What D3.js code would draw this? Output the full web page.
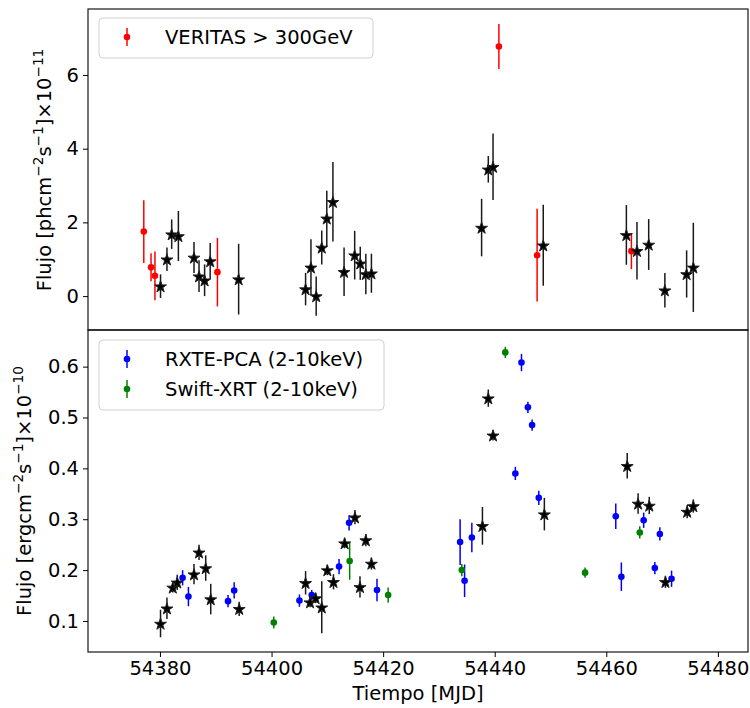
<!DOCTYPE html>
<html>
<head>
<meta charset="utf-8">
<script src="https://cdn.jsdelivr.net/npm/d3@7"></script>
<style>
  body { margin: 0; background: #fff; }
  svg text { font-family: "DejaVu Sans", sans-serif; }
</style>
</head>
<body>
<svg id="chart" width="750" height="708"></svg>
<script>
// ---- VERITAS (>300 GeV) light curve, units of 1e-11 ph cm^-2 s^-1 ----
const veritasMJD = [54377.1, 54378.4, 54379.1, 54390.3, 54440.75, 54447.6, 54464.5];
const veritasFlux = [1.75, 0.78, 0.55, 0.65, 6.77, 1.11, 1.22];
const veritasErr = [0.85, 0.38, 0.66, 0.93, 0.61, 1.26, 0.49];

// ---- Model fluxes on the gamma-ray panel (stars) ----
const gammaModelMJD = [54380.1, 54381.25, 54382.1, 54383.3, 54386.1, 54387.0, 54388.0, 54389.0, 54394.1,
  54406.1, 54407.06, 54408.0, 54409.0, 54409.9, 54411.0, 54413.0, 54414.9, 54415.9, 54416.9, 54417.9,
  54437.65, 54438.85, 54439.7, 54448.7,
  54463.6, 54465.5, 54467.6, 54470.5, 54474.4, 54475.6];
const gammaModelFlux = [0.27, 1.0, 1.68, 1.63, 1.05, 0.54, 0.43, 0.95, 0.46,
  0.19, 0.78, 0.0, 1.32, 2.11, 2.56, 0.66, 1.11, 0.89, 0.6, 0.62,
  1.86, 3.44, 3.51, 1.38,
  1.66, 1.23, 1.4, 0.16, 0.6, 0.78];
const gammaModelErr = [0.32, 0.32, 0.4, 0.68, 0.42, 0.43, 0.43, 0.49, 0.96,
  0.44, 0.76, 0.53, 0.46, 0.75, 1.08, 0.66, 0.66, 0.45, 0.55, 0.53,
  0.78, 0.36, 0.9, 1.1,
  0.81, 0.78, 0.69, 0.47, 0.64, 1.21];

// ---- RXTE-PCA (2-10 keV), units of 1e-10 erg cm^-2 s^-1 ----
const pcaMJD = [54384.06, 54385.1, 54392.2, 54393.3, 54405.0, 54407.2, 54412.1, 54413.9, 54418.9,
  54433.8, 54434.6, 54435.9, 54443.7, 54444.8, 54445.95, 54446.7, 54447.9,
  54461.7, 54462.7, 54466.7, 54468.7, 54469.6, 54471.7];
const pcaFlux = [0.185, 0.148, 0.139, 0.16, 0.14, 0.151, 0.207, 0.293, 0.161,
  0.255, 0.179, 0.264, 0.39, 0.608, 0.52, 0.485, 0.342,
  0.306, 0.187, 0.298, 0.204, 0.271, 0.183];
const pcaErr = [0.015, 0.019, 0.012, 0.016, 0.012, 0.01, 0.015, 0.015, 0.022,
  0.045, 0.032, 0.029, 0.013, 0.017, 0.011, 0.011, 0.014,
  0.025, 0.028, 0.015, 0.012, 0.013, 0.016];

// ---- Swift-XRT (2-10 keV) ----
const xrtMJD = [54400.4, 54414.0, 54420.9, 54434.1, 54441.9, 54456.2, 54466.0];
const xrtFlux = [0.097, 0.218, 0.151, 0.2, 0.628, 0.195, 0.274];
const xrtErr = [0.012, 0.037, 0.015, 0.012, 0.011, 0.01, 0.012];

// ---- Model fluxes on the X-ray panel (stars) ----
const xModelMJD = [54380.1, 54381.25, 54382.3, 54383.1, 54386.1, 54387.0, 54388.2, 54389.1, 54394.2,
  54406.1, 54406.9, 54407.9, 54409.0, 54410.0, 54411.1, 54413.1, 54414.95, 54415.85, 54416.9, 54417.9,
  54437.8, 54438.85, 54439.7, 54448.9,
  54463.75, 54465.7, 54467.7, 54470.6, 54474.5, 54475.6];
const xModelFlux = [0.095, 0.125, 0.166, 0.176, 0.192, 0.235, 0.204, 0.143, 0.124,
  0.175, 0.137, 0.145, 0.127, 0.2, 0.177, 0.253, 0.304, 0.167, 0.259, 0.213,
  0.287, 0.538, 0.465, 0.31,
  0.405, 0.331, 0.327, 0.177, 0.315, 0.326];
const xModelErr = [0.027, 0.021, 0.01, 0.015, 0.02, 0.015, 0.025, 0.03, 0.014,
  0.023, 0.01, 0.01, 0.051, 0.01, 0.015, 0.01, 0.014, 0.021, 0.012, 0.012,
  0.037, 0.017, 0.01, 0.032,
  0.025, 0.02, 0.017, 0.012, 0.013, 0.013];

const xTicks = [54380, 54400, 54420, 54440, 54460, 54480];
const gammaTicks = [0, 2, 4, 6];
const xrayTicks = [0.1, 0.2, 0.3, 0.4, 0.5, 0.6];

// ---- layout ----
const svg = d3.select("#chart");
const left = 88, right = 748;
const top1 = 9, bot1 = 330, top2 = 330, bot2 = 652;

const x = d3.scaleLinear().domain([54367.1, 54485.4]).range([left, right]);
const yG = d3.scaleLinear().domain([-0.92, 7.79]).range([bot1, top1]);
const yX = d3.scaleLinear().domain([0.039, 0.672]).range([bot2, top2]);

const fontSize = 19.5;

function clip(id, y0, y1) {
  svg.append("clipPath").attr("id", id)
    .append("rect").attr("x", left).attr("y", y0).attr("width", right - left).attr("height", y1 - y0);
}
clip("c1", top1, bot1);
clip("c2", top2, bot2);

function zip(xs, ys, es) { return xs.map((d, i) => ({ t: d, v: ys[i], e: es[i] })); }

function errorbars(g, data, y, color) {
  g.selectAll(null).data(data).join("line")
    .attr("x1", d => x(d.t)).attr("x2", d => x(d.t))
    .attr("y1", d => y(d.v - d.e)).attr("y2", d => y(d.v + d.e))
    .attr("stroke", color).attr("stroke-width", 1.5);
}
function dots(g, data, y, color) {
  errorbars(g, data, y, color);
  g.selectAll(null).data(data).join("circle")
    .attr("cx", d => x(d.t)).attr("cy", d => y(d.v)).attr("r", 3.3).attr("fill", color);
}
const star = d3.symbol().type(d3.symbolStar).size(44);
function stars(g, data, y) {
  errorbars(g, data, y, "#1a1a1a");
  g.selectAll(null).data(data).join("path")
    .attr("d", star)
    .attr("transform", d => `translate(${x(d.t)},${y(d.v) + 0.7})`)
    .attr("fill", "#000").attr("stroke", "#222").attr("stroke-width", 1)
    .attr("stroke-linejoin", "miter");
}

// ---- top panel: gamma rays ----
const g1 = svg.append("g").attr("clip-path", "url(#c1)");
dots(g1, zip(veritasMJD, veritasFlux, veritasErr), yG, "#ff0000");
stars(g1, zip(gammaModelMJD, gammaModelFlux, gammaModelErr), yG);

// ---- bottom panel: X-rays ----
const g2 = svg.append("g").attr("clip-path", "url(#c2)");
dots(g2, zip(pcaMJD, pcaFlux, pcaErr), yX, "#0000ff");
dots(g2, zip(xrtMJD, xrtFlux, xrtErr), yX, "#008000");
stars(g2, zip(xModelMJD, xModelFlux, xModelErr), yX);

// ---- axes ----
function styleAxis(g) {
  g.select(".domain").remove();
  g.selectAll(".tick line").attr("stroke", "#000").attr("stroke-width", 1);
  g.selectAll(".tick text").attr("font-size", fontSize).attr("fill", "#000")
    .style("font-family", "DejaVu Sans, sans-serif");
}
svg.append("g").attr("transform", `translate(${left},0)`)
  .call(d3.axisLeft(yG).tickValues(gammaTicks).tickFormat(d3.format("d")).tickSize(5).tickPadding(4))
  .call(styleAxis);
svg.append("g").attr("transform", `translate(${left},0)`)
  .call(d3.axisLeft(yX).tickValues(xrayTicks).tickFormat(d3.format(".1f")).tickSize(5).tickPadding(4))
  .call(styleAxis);
svg.append("g").attr("transform", `translate(0,${bot2})`)
  .call(d3.axisBottom(x).tickValues(xTicks).tickFormat(d3.format("d")).tickSize(5).tickPadding(4))
  .call(styleAxis);

// frames
[[top1, bot1], [top2, bot2]].forEach(([a, b]) => {
  svg.append("rect").attr("x", left).attr("y", a).attr("width", right - left).attr("height", b - a)
    .attr("fill", "none").attr("stroke", "#000").attr("stroke-width", 1.1);
});

// ---- axis labels ----
svg.append("text").attr("x", (left + right) / 2).attr("y", 700)
  .attr("text-anchor", "middle").attr("font-size", fontSize).text("Tiempo [MJD]");

function yLabel(cx, cy, unit) {
  const t = svg.append("text").attr("transform", `translate(${cx},${cy}) rotate(-90)`)
    .attr("text-anchor", "middle").attr("font-size", fontSize);
  const sup = (s) => t.append("tspan").attr("font-size", fontSize * 0.7).attr("dy", -8).text(s);
  const base = (s) => t.append("tspan").attr("font-size", fontSize).attr("dy", 8).text(s);
  t.append("tspan").text(`Flujo [${unit}cm`);
  sup("\u22122"); base("s"); sup("\u22121"); base("]\u00d710");
  sup(unit === "ph" ? "\u221211" : "\u221210");
}
yLabel(51, 170, "ph");
yLabel(31, 491, "erg");

// ---- legends ----
function legend(x0, y0, w, entries) {
  const h = 10 + entries.length * 30;
  const g = svg.append("g");
  g.append("rect").attr("x", x0).attr("y", y0).attr("width", w).attr("height", h)
    .attr("rx", 4).attr("fill", "#fff").attr("fill-opacity", 0.8)
    .attr("stroke", "#d0d0d0").attr("stroke-width", 1);
  entries.forEach((e, i) => {
    const cy = y0 + 19 + i * 30;
    const mx = x0 + 28;
    g.append("line").attr("x1", mx).attr("x2", mx).attr("y1", cy - 9).attr("y2", cy + 9)
      .attr("stroke", e.color).attr("stroke-width", 1.5);
    g.append("circle").attr("cx", mx).attr("cy", cy).attr("r", 3.3).attr("fill", e.color);
    g.append("text").attr("x", x0 + 66).attr("y", cy + 7).attr("font-size", fontSize).text(e.label);
  });
}
legend(99, 18, 274, [{ label: "VERITAS > 300GeV", color: "#ff0000" }]);
legend(99, 340, 285, [
  { label: "RXTE-PCA (2-10keV)", color: "#0000ff" },
  { label: "Swift-XRT (2-10keV)", color: "#008000" }
]);
</script>
</body>
</html>
